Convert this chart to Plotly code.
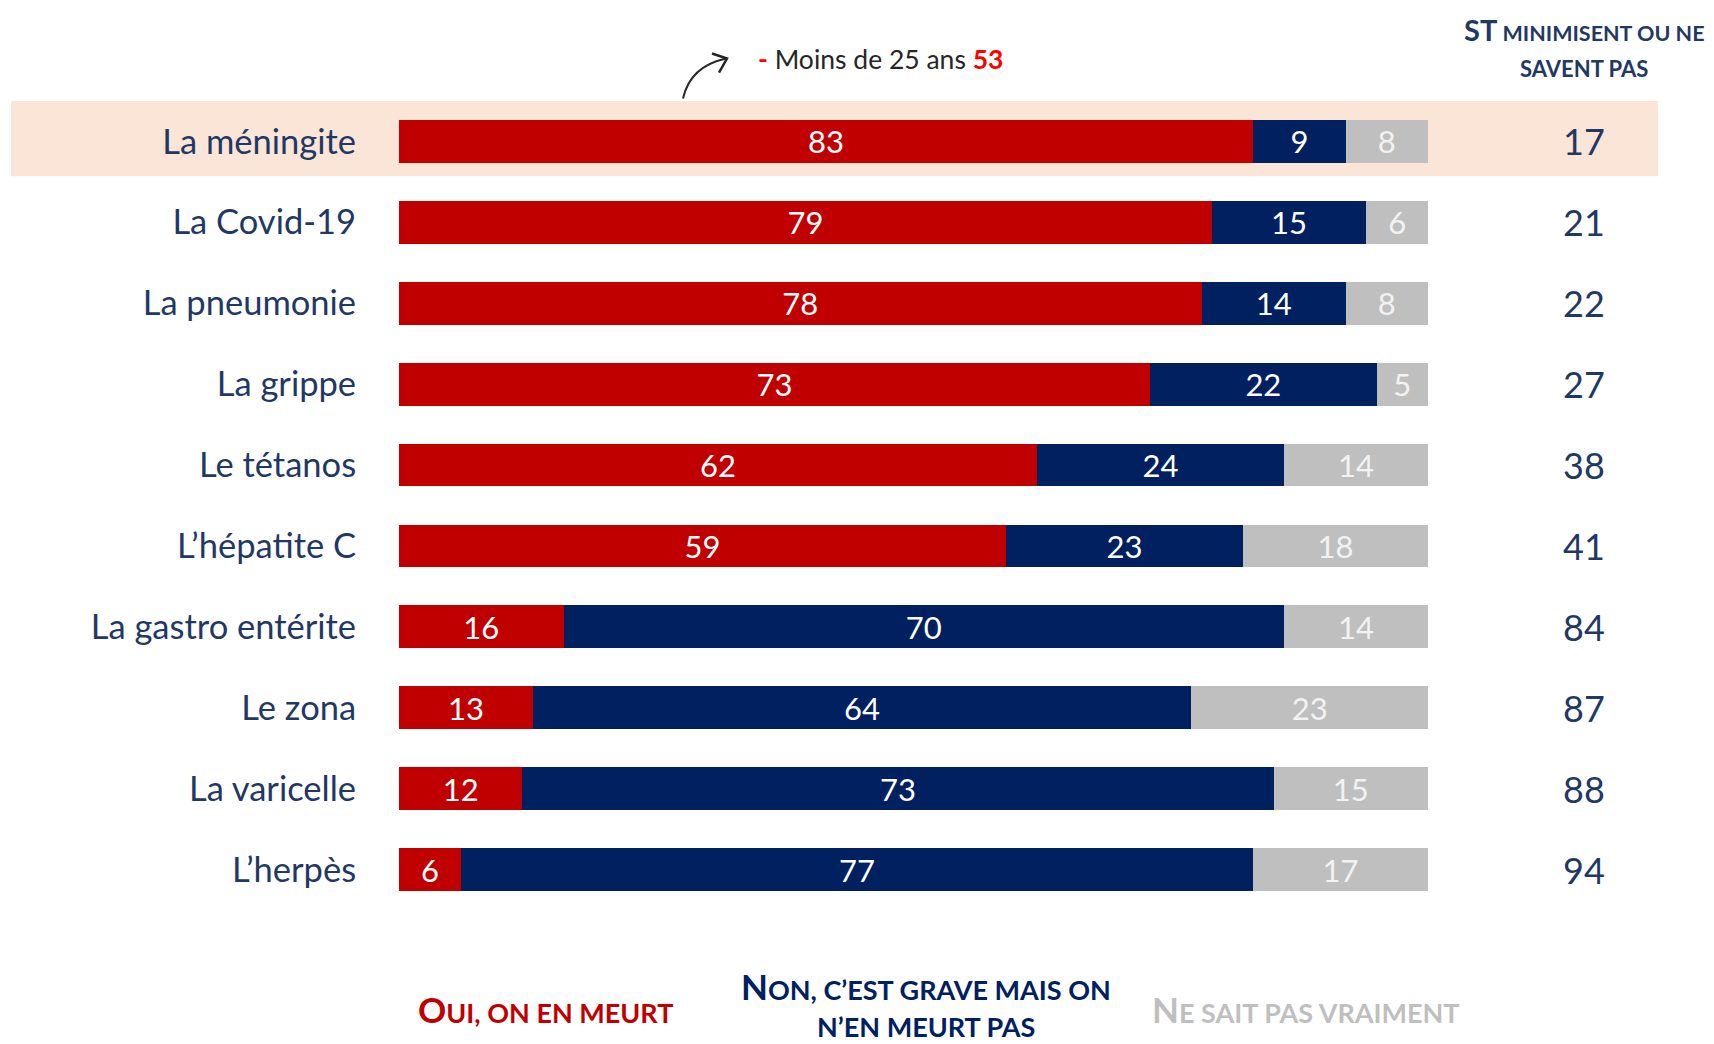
import plotly.graph_objects as go

categories = ["La méningite", "La Covid-19", "La pneumonie", "La grippe", "Le tétanos",
              "L’hépatite C", "La gastro entérite", "Le zona", "La varicelle", "L’herpès"]
oui = [83, 79, 78, 73, 62, 59, 16, 13, 12, 6]
non = [9, 15, 14, 22, 24, 23, 70, 64, 73, 77]
nsp = [8, 6, 8, 5, 14, 18, 14, 23, 15, 17]
st_total = [17, 21, 22, 27, 38, 41, 84, 87, 88, 94]

series_names = ["Oui, on en meurt", "Non, c’est grave mais on n’en meurt pas", "Ne sait pas vraiment"]
RED, NAVY, GREY = "#C00000", "#002060", "#BFBFBF"
TXT = "#1F3864"
FONT = "Lato"

OFF = 8  # page body margin
W, H = 1714 - OFF, 1044 - OFF
L, R = 399 - OFF, 1428 - OFF
T, B = 100.5 - OFF, 910.5 - OFF

def px(x):
    return (x - OFF - L) / (R - L)

def py(y):
    return (B - (y - OFF)) / (B - T)

ypos = list(range(len(categories)))

fig = go.Figure()
for vals, col, tcol, name in [(oui, RED, "white", series_names[0]),
                              (non, NAVY, "white", series_names[1]),
                              (nsp, GREY, "#F2F2F2", series_names[2])]:
    fig.add_trace(go.Bar(
        y=ypos, x=vals, orientation="h", name=name,
        marker=dict(color=col, line=dict(width=0)),
        width=0.53,
        text=vals, texttemplate="%{x}", textposition="inside", textangle=0,
        insidetextanchor="middle", constraintext="none",
        textfont=dict(family=FONT, size=31, color=tcol),
        hoverinfo="skip",
    ))

shapes = [
    dict(type="rect", xref="paper", yref="y", x0=px(11), x1=px(1658), y0=-0.52, y1=0.43,
         fillcolor="#FBE5D6", line=dict(width=0), layer="below"),
    dict(type="path", xref="paper", yref="paper",
         path=f"M {px(683)},{py(98)} Q {px(690)},{py(66)} {px(726)},{py(58)}",
         line=dict(color="#262626", width=2)),
    dict(type="path", xref="paper", yref="paper",
         path=f"M {px(712)},{py(53)} L {px(727)},{py(58)} L {px(719)},{py(72)}",
         line=dict(color="#262626", width=2.5)),
]

annotations = []
for i, v in enumerate(st_total):
    annotations.append(dict(xref="paper", yref="y", x=px(1584), y=i, text=str(v),
                            showarrow=False, xanchor="center", yanchor="middle",
                            font=dict(family=FONT, size=36, color=TXT)))

def sc(first, rest, big, small):
    return f"<b><span style='font-size:{big}px'>{first}</span><span style='font-size:{small}px'>{rest}</span></b>"

annotations += [
    dict(xref="paper", yref="paper", x=px(1584), y=py(29),
         text=sc("ST", " MINIMISENT OU NE", 29, 21.5), showarrow=False,
         font=dict(family=FONT, size=21.5, color=TXT), xanchor="center", yanchor="middle"),
    dict(xref="paper", yref="paper", x=px(1584), y=py(68),
         text="<b>SAVENT PAS</b>", showarrow=False,
         font=dict(family=FONT, size=22, color=TXT), xanchor="center", yanchor="middle"),
    dict(xref="paper", yref="paper", x=px(756), y=py(58),
         text="<span style='color:#FF0000'><b>-</b></span> Moins de 25 ans <b><span style='color:#FF0000'>53</span></b>",
         showarrow=False, font=dict(family=FONT, size=26.5, color="#262626"),
         xanchor="left", yanchor="middle"),
    dict(xref="paper", yref="paper", x=px(545), y=py(1010),
         text=sc("O", "UI, ON EN MEURT", 35, 27), showarrow=False,
         font=dict(family=FONT, color=RED), xanchor="center", yanchor="middle"),
    dict(xref="paper", yref="paper", x=px(926), y=py(987),
         text=sc("N", "ON, C’EST GRAVE MAIS ON", 35, 27), showarrow=False,
         font=dict(family=FONT, color=NAVY), xanchor="center", yanchor="middle"),
    dict(xref="paper", yref="paper", x=px(926), y=py(1027),
         text="<b>N’EN MEURT PAS</b>", showarrow=False,
         font=dict(family=FONT, size=27, color=NAVY), xanchor="center", yanchor="middle"),
    dict(xref="paper", yref="paper", x=px(1306), y=py(1010),
         text=sc("N", "E SAIT PAS VRAIMENT", 35, 27), showarrow=False,
         font=dict(family=FONT, color=GREY), xanchor="center", yanchor="middle"),
]

fig.update_layout(
    width=W, height=H, barmode="stack", showlegend=False,
    margin=dict(l=L, r=W - R, t=T, b=H - B, pad=0),
    paper_bgcolor="white", plot_bgcolor="rgba(0,0,0,0)",
    shapes=shapes, annotations=annotations,
    xaxis=dict(range=[0, 100], visible=False, fixedrange=True),
    yaxis=dict(range=[9.5, -0.5], tickvals=ypos, ticktext=categories,
               ticks="outside", ticklen=35, tickcolor="rgba(0,0,0,0)",
               showgrid=False, zeroline=False, showline=False,
               tickfont=dict(family=FONT, size=34.5, color=TXT)),
)

fig.write_html("out.html")
